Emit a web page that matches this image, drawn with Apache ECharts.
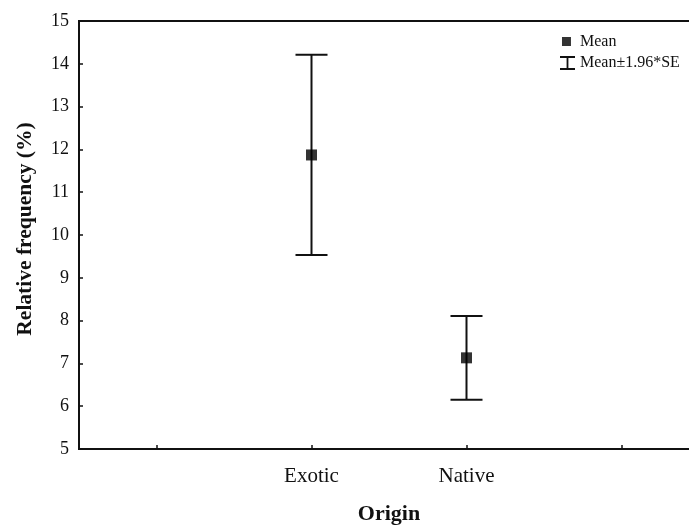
<!DOCTYPE html>
<html>
<head>
<meta charset="utf-8">
<script src="https://cdn.jsdelivr.net/npm/echarts@6/dist/echarts.min.js"></script>
<style>
html,body{margin:0;padding:0;background:#fff;}
#chart{width:689px;height:525px;}
</style>
</head>
<body>
<div id="chart"></div>
<script>
// Data
var groups = ['Exotic', 'Native'];
var means = [11.87, 7.13];
var lowerCI = [9.53, 6.15];
var upperCI = [14.21, 8.11];
var yTicks = {min: 5, max: 15, interval: 1};
var legendNames = ['Mean', 'Mean\u00b11.96*SE'];

var categories = [''].concat(groups).concat(['']);
var FONT = 'Liberation Serif';

var chart = echarts.init(document.getElementById('chart'), null, {renderer: 'canvas'});

var meanData = groups.map(function (g, i) { return [g, means[i]]; });
var errData = groups.map(function (g, i) { return [g, lowerCI[i], upperCI[i]]; });

var option = {
  backgroundColor: '#fff',
  animation: false,
  grid: {
    left: 79, width: 620, top: 21, height: 428,
    containLabel: false,
    outerBoundsMode: 'none',
    show: true, borderColor: '#111', borderWidth: 2, backgroundColor: 'transparent'
  },
  legend: {
    orient: 'vertical',
    left: 560, top: 33,
    padding: 0,
    itemWidth: 15, itemHeight: 14, itemGap: 3,
    textStyle: {fontFamily: FONT, fontSize: 16, color: '#111', lineHeight: 18},
    data: [
      {name: legendNames[0], icon: 'path://M0,0h0.05v0.05h-0.05zM15,14h0.05v0.05h-0.05zM2,2h9v9h-9z', itemStyle: {color: '#000'}},
      {name: legendNames[1], icon: 'path://M0,0h15v2h-6.6v10h6.6v2h-15v-2h6.6v-10h-6.6z', itemStyle: {color: '#111'}}
    ]
  },
  xAxis: {
    type: 'category',
    data: categories,
    boundaryGap: true,
    name: 'Origin',
    nameLocation: 'middle',
    nameGap: 54,
    nameTextStyle: {fontFamily: FONT, fontSize: 22, fontWeight: 'bold', color: '#111'},
    axisLine: {show: true, lineStyle: {color: '#111', width: 2}},
    axisTick: {show: true, inside: true, alignWithLabel: true, length: 4, lineStyle: {color: '#111', width: 1.5}},
    axisLabel: {fontFamily: FONT, fontSize: 21, color: '#111', margin: 17},
    splitLine: {show: false}
  },
  yAxis: {
    type: 'value',
    min: yTicks.min, max: yTicks.max, interval: yTicks.interval,
    name: 'Relative frequency (%)',
    nameLocation: 'middle',
    nameGap: 43,
    nameTextStyle: {fontFamily: FONT, fontSize: 21.5, fontWeight: 'bold', color: '#111', padding: [0, 0, 0, 12]},
    axisLine: {show: true, lineStyle: {color: '#111', width: 2}},
    axisTick: {show: true, inside: true, length: 4, lineStyle: {color: '#111', width: 1.5}},
    axisLabel: {fontFamily: FONT, fontSize: 18, color: '#111', margin: 10},
    splitLine: {show: false}
  },
  series: [
    {
      name: legendNames[1],
      type: 'custom',
      itemStyle: {color: '#111'},
      data: errData,
      encode: {x: 0, y: [1, 2]},
      renderItem: function (params, api) {
        var x = api.value(0);
        var lo = api.coord([x, api.value(1)]);
        var hi = api.coord([x, api.value(2)]);
        var hw = 16;
        var style = {stroke: '#111', lineWidth: 2, fill: null};
        return {
          type: 'group',
          children: [
            {type: 'line', shape: {x1: hi[0], y1: hi[1], x2: lo[0], y2: lo[1]}, style: style},
            {type: 'line', shape: {x1: hi[0] - hw, y1: hi[1], x2: hi[0] + hw, y2: hi[1]}, style: style},
            {type: 'line', shape: {x1: lo[0] - hw, y1: lo[1], x2: lo[0] + hw, y2: lo[1]}, style: style}
          ]
        };
      },
      z: 2
    },
    {
      name: legendNames[0],
      type: 'scatter',
      symbol: 'rect',
      symbolSize: 11,
      itemStyle: {color: '#000'},
      data: meanData,
      z: 3
    }
  ]
};
chart.setOption(option);
</script>
</body>
</html>
